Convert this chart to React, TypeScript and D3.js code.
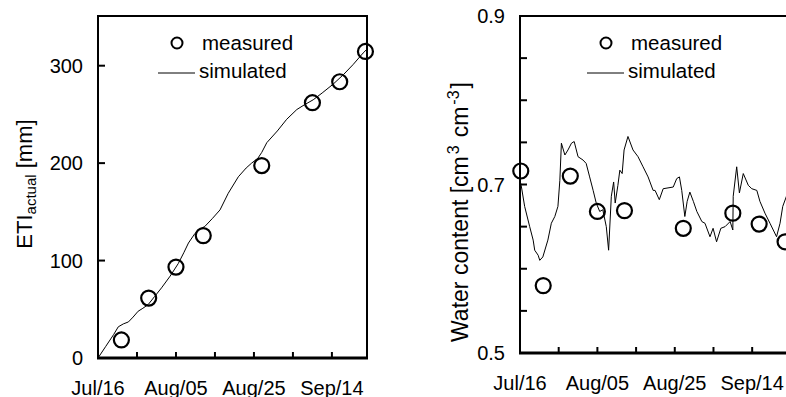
import * as d3 from 'd3';
import React, { useEffect, useRef } from 'react';

// days after Jul/16
const dayTicks = [0, 10, 20, 30, 40, 50, 60];
const dayTickLabels = ['Jul/16', '', 'Aug/05', '', 'Aug/25', '', 'Sep/14'];

const etTicks = [0, 100, 200, 300];
const wcTicks = [0.5, 0.55, 0.6, 0.65, 0.7, 0.75, 0.8, 0.85, 0.9];
const wcTickLabels = ['0.5', '', '', '', '0.7', '', '', '', '0.9'];

const etMeasuredDays = [6, 13, 20, 27, 42, 55, 62, 68.6];
const etMeasured = [18.5, 61.5, 93.3, 125.6, 197.5, 262, 283.5, 314.6];

const etSimDays = [0, 2, 4, 5.2, 6.5, 7.8, 9, 10.3, 11.5, 12.9, 14.5, 16.3, 18.5, 20.6, 22, 23.2, 24.9, 26, 27.4, 29.3, 31.3, 33.4, 36, 38, 39.4, 41, 42, 43.3, 46, 48.4, 51, 53, 55.2, 57.5, 60.3, 63, 65.4, 68, 69];
const etSim = [0, 12, 24, 32, 35, 37, 42, 48, 51, 55, 63, 72, 84, 97, 108, 118, 128, 132, 135, 143, 152, 169, 186, 195, 200, 205, 211, 221, 233, 245, 255, 260, 265, 272, 281, 291, 301, 313, 317];

const wcMeasuredDays = [0.2, 6, 13, 20, 27, 42.2, 55, 61.8, 68.5];
const wcMeasured = [0.716, 0.58, 0.71, 0.668, 0.669, 0.648, 0.666, 0.653, 0.632];

const wcSimDays = [0, 0.3, 1.2, 2.5, 3.4, 3.8, 4.7, 5.1, 5.9, 7.2, 8.1, 9.0, 9.8, 10.3, 10.7, 11.6, 12.4, 13.3, 14.0, 15.0, 16.3, 17.1, 18.0, 18.9, 19.7, 20.6, 21.4, 22.3, 22.9, 23.6, 24.2, 24.6, 25.3, 25.8, 26.4, 26.9, 27.9, 29.2, 30.5, 31.8, 33.1, 34.4, 34.9, 36.0, 37.0, 39.6, 40.5, 41.2, 41.8, 42.6, 43.2, 43.9, 44.8, 45.7, 47.0, 47.8, 49.1, 49.9, 50.8, 51.9, 53.0, 54.3, 55.0, 55.1, 56.0, 56.7, 57.7, 59.0, 59.9, 61.2, 62.0, 63.3, 64.6, 66.3, 67.2, 67.9, 68.7, 69];
const wcSim = [0.705, 0.699, 0.674, 0.65, 0.634, 0.622, 0.616, 0.61, 0.614, 0.634, 0.654, 0.662, 0.674, 0.705, 0.749, 0.735, 0.741, 0.749, 0.751, 0.733, 0.729, 0.725, 0.709, 0.693, 0.678, 0.668, 0.67, 0.65, 0.622, 0.686, 0.703, 0.678, 0.699, 0.717, 0.713, 0.741, 0.757, 0.741, 0.733, 0.721, 0.709, 0.693, 0.693, 0.682, 0.695, 0.697, 0.707, 0.709, 0.693, 0.662, 0.68, 0.691, 0.68, 0.668, 0.656, 0.654, 0.638, 0.648, 0.632, 0.648, 0.65, 0.656, 0.646, 0.686, 0.721, 0.69, 0.713, 0.699, 0.695, 0.693, 0.68, 0.666, 0.654, 0.638, 0.654, 0.674, 0.684, 0.688];

const FONT = '"Liberation Sans", Arial, Helvetica, sans-serif';

export default () => {
    const ref = useRef<any>();

    function panel(svg: any, o: any): void {
        const x = d3.scaleLinear().domain([0, 69]).range(o.xr);
        const y = d3.scaleLinear().domain(o.yd).range(o.yr);
        const g = svg.append('g');
        const [x0, x1] = o.xr;
        const [yb, yt] = o.yr;

        // frame
        g.append('path')
            .attr('d', `M${x0},${yb}V${yt}H${x1}V${yb}`)
            .attr('fill', 'none').attr('stroke', '#000').attr('stroke-width', 2);
        g.append('line')
            .attr('x1', x0 - 1).attr('x2', x1 + 1).attr('y1', yb).attr('y2', yb)
            .attr('stroke', '#000').attr('stroke-width', 3);

        // x ticks, inward
        g.selectAll('.xt').data(dayTicks.slice(1)).join('line')
            .attr('x1', (d: any) => x(d)).attr('x2', (d: any) => x(d))
            .attr('y1', yb).attr('y2', yb - 6)
            .attr('stroke', '#000').attr('stroke-width', 2);
        g.selectAll('.xl').data(dayTicks).join('text')
            .attr('x', (d: any) => x(d)).attr('y', yb + 37)
            .attr('text-anchor', 'middle')
            .attr('font-size', 20).attr('font-family', FONT)
            .text((d: any, i: number) => dayTickLabels[i]);

        // y ticks, inward
        g.selectAll('.yt').data(o.yt).join('line')
            .attr('x1', x0).attr('x2', x0 + 7)
            .attr('y1', (d: any) => y(d)).attr('y2', (d: any) => y(d))
            .attr('stroke', '#000').attr('stroke-width', 2);
        g.selectAll('.yl').data(o.yt).join('text')
            .attr('x', x0 - 15).attr('y', (d: any) => y(d) + 7)
            .attr('text-anchor', 'end')
            .attr('font-size', 20).attr('font-family', FONT)
            .text((d: any, i: number) => o.ytl[i]);

        // simulated
        const line = d3.line<number>()
            .x((d: number) => x(o.simDays[d]))
            .y((d: number) => y(o.sim[d]));
        g.append('path')
            .attr('d', line(d3.range(o.sim.length)))
            .attr('fill', 'none').attr('stroke', '#000').attr('stroke-width', 1);

        // measured
        g.selectAll('.pt').data(o.meas).join('circle')
            .attr('cx', (d: any, i: number) => x(o.measDays[i]))
            .attr('cy', (d: any) => y(d))
            .attr('r', 7.5)
            .attr('fill', 'none').attr('stroke', '#000').attr('stroke-width', 2.2);

        // legend
        const [lx, ly] = o.legend;
        g.append('circle').attr('cx', lx).attr('cy', ly).attr('r', 5.5)
            .attr('fill', 'none').attr('stroke', '#000').attr('stroke-width', 2);
        g.append('text').attr('x', lx + 25).attr('y', ly + 7)
            .attr('font-size', 20.5).attr('font-family', FONT).text('measured');
        g.append('line').attr('x1', lx - 19).attr('x2', lx + 18)
            .attr('y1', ly + 30).attr('y2', ly + 30)
            .attr('stroke', '#000').attr('stroke-width', 1);
        g.append('text').attr('x', lx + 22).attr('y', ly + 35)
            .attr('font-size', 20.5).attr('font-family', FONT).text('simulated');
    }

    useEffect(() => {
        const svg = d3.select<any, any>(ref.current);
        svg.selectAll('*').remove();

        panel(svg, {
            xr: [98, 367], yd: [0, 351], yr: [358, 16],
            yt: etTicks, ytl: etTicks.map(String),
            simDays: etSimDays, sim: etSim,
            measDays: etMeasuredDays, meas: etMeasured,
            legend: [177, 43],
        });
        panel(svg, {
            xr: [520, 787], yd: [0.5, 0.9], yr: [353, 16],
            yt: wcTicks, ytl: wcTickLabels,
            simDays: wcSimDays, sim: wcSim,
            measDays: wcMeasuredDays, meas: wcMeasured,
            legend: [606, 43],
        });

        // axis titles
        const t1 = svg.append('text')
            .attr('transform', 'translate(32,184) rotate(-90)')
            .attr('text-anchor', 'middle')
            .attr('font-size', 22).attr('font-family', FONT);
        t1.append('tspan').text('ETI');
        t1.append('tspan').attr('font-size', 15).attr('dy', 4).text('actual');
        t1.append('tspan').attr('dy', -4).text(' [mm]');

        const t2 = svg.append('text')
            .attr('transform', 'translate(468,212) rotate(-90)')
            .attr('text-anchor', 'middle')
            .attr('font-size', 23).attr('font-family', FONT);
        t2.append('tspan').text('Water content [cm');
        t2.append('tspan').attr('font-size', 16).attr('dy', -9).attr('dx', 2).text('3');
        t2.append('tspan').attr('dy', 9).attr('dx', 8).text('cm');
        t2.append('tspan').attr('font-size', 16).attr('dy', -9).attr('dx', 2).text('-3');
        t2.append('tspan').attr('dy', 9).attr('dx', 2).text(']');
    }, []);

    return (
        <svg ref={ref} width={786} height={397}
            style={{ position: 'absolute', left: 0, top: 0, background: '#fff' }} />
    );
};
